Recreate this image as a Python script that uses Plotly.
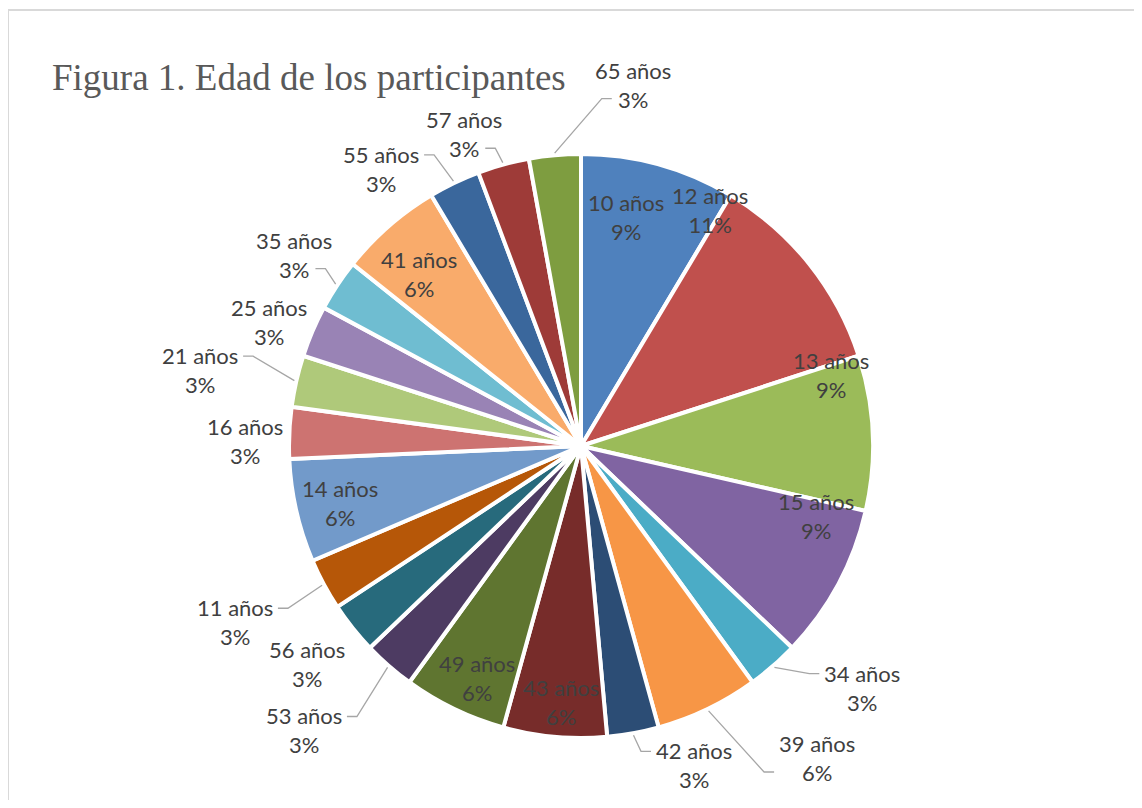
import math
import plotly.graph_objects as go

# ---------------- data ----------------
ages = ["10 años", "12 años", "13 años", "15 años", "34 años", "39 años", "42 años",
        "43 años", "49 años", "53 años", "56 años", "11 años", "14 años", "16 años",
        "21 años", "25 años", "35 años", "41 años", "55 años", "57 años", "65 años"]
counts = [3, 4, 3, 3, 1, 2, 1, 2, 2, 1, 1, 1, 2, 1, 1, 1, 1, 2, 1, 1, 1]
title_text = "Figura 1. Edad de los participantes"

# ---------------- style ----------------
colors = ["#4F81BD", "#C0504D", "#9BBB59", "#8064A2", "#4BACC6", "#F79646",
          "#2C4D75", "#772C2A", "#5F7530", "#4D3B62", "#276A7C", "#B65708",
          "#729ACA", "#CD7371", "#AFC97A", "#9983B5", "#6FBDD1", "#F9AB6B",
          "#3A679C", "#9E3B38", "#7E9D40"]
# label placement (angle nudge from slice middle in degrees, radius as fraction of R)
label_nudge = [-4.2, -22.7, -13.3, -11.6, -8.2, -11.4, -9.2, -0.6, -1.5, 3.1, 0.0, 1.3,
               -0.5, -1.7, -1.6, -1.4, 0.3, -2.2, -10.1, -5.1, 13.3]
label_radius = [0.80, 0.92, 0.89, 0.84, 1.27, 1.34, 1.16, 0.88, 0.87, 1.36, 1.20, 1.33,
                0.85, 1.15, 1.33, 1.15, 1.18, 0.81, 1.17, 1.14, 1.25]
# leader line: None = no leader, 0 = attach to first text line, 1 = second text line
leader = [None, None, None, None, 0, 1, 0, None, None, 0, None, 0,
          None, None, 0, None, 1, None, 0, 1, 1]

OFF = 8                      # page body margin
WIN_W, WIN_H = 1142, 808
FW, FH = WIN_W - 2 * OFF, WIN_H - 2 * OFF
CX, CY, R = 581, 446, 292    # page pixel coords
FONT = "Lato, 'Open Sans', sans-serif"
LINE_H = 28
TXT = "#404040"


def px(x):
    return (x - OFF) / FW


def py(y):
    return 1 - (y - OFF) / FH


total = sum(counts)
pcts = [round(c / total * 100) for c in counts]

fig = go.Figure()
fig.add_trace(go.Pie(
    labels=ages, values=counts, sort=False, direction="clockwise", rotation=0,
    marker=dict(colors=colors, line=dict(color="white", width=4)),
    textinfo="none", hoverinfo="label+percent", showlegend=False,
    domain=dict(x=[px(CX - R), px(CX + R)], y=[py(CY + R), py(CY - R)]),
))

annotations = []
shapes = []

# frame
shapes.append(dict(type="rect", xref="paper", yref="paper",
                   x0=px(8), x1=px(WIN_W + 20), y0=py(WIN_H + 20), y1=py(10),
                   line=dict(color="#D9D9D9", width=2), layer="below"))

annotations.append(dict(text=title_text, xref="paper", yref="paper",
                        x=px(50), y=py(77), xanchor="left", yanchor="middle",
                        showarrow=False,
                        font=dict(family="'Liberation Serif', 'Times New Roman', serif",
                                  size=37, color="#595959")))

cum = 0
for i, (a, c) in enumerate(zip(ages, counts)):
    start = cum / total * 360
    cum += c
    end = cum / total * 360
    mid = (start + end) / 2
    ang = math.radians(mid + label_nudge[i])
    r = R * label_radius[i]
    lx = CX + r * math.sin(ang)
    ly = CY - r * math.cos(ang)
    annotations.append(dict(text=f"{a}<br>{pcts[i]}%", xref="paper", yref="paper",
                            x=px(lx), y=py(ly), xanchor="center", yanchor="middle",
                            showarrow=False, font=dict(family=FONT, size=22, color=TXT)))
    if leader[i] is not None:
        m = math.radians(mid)
        sx = CX + (R + 2) * math.sin(m)
        sy = CY - (R + 2) * math.cos(m)
        ty = ly - LINE_H / 2 if leader[i] == 0 else ly + LINE_H / 2
        hw = 38 if (leader[i] == 0 or ly > CY) else 16
        if lx > sx:
            ex = lx - hw - 5
            bx = ex - 10
        else:
            ex = lx + hw + 5
            bx = ex + 10
        path = f"M {px(sx)},{py(sy)} L {px(bx)},{py(ty)} L {px(ex)},{py(ty)}"
        shapes.append(dict(type="path", xref="paper", yref="paper", path=path,
                           line=dict(color="#A6A6A6", width=1.3), layer="above"))

fig.update_layout(
    width=FW, height=FH,
    margin=dict(l=0, r=0, t=0, b=0),
    paper_bgcolor="white", plot_bgcolor="white",
    annotations=annotations, shapes=shapes,
)

fig.write_html("out.html")
